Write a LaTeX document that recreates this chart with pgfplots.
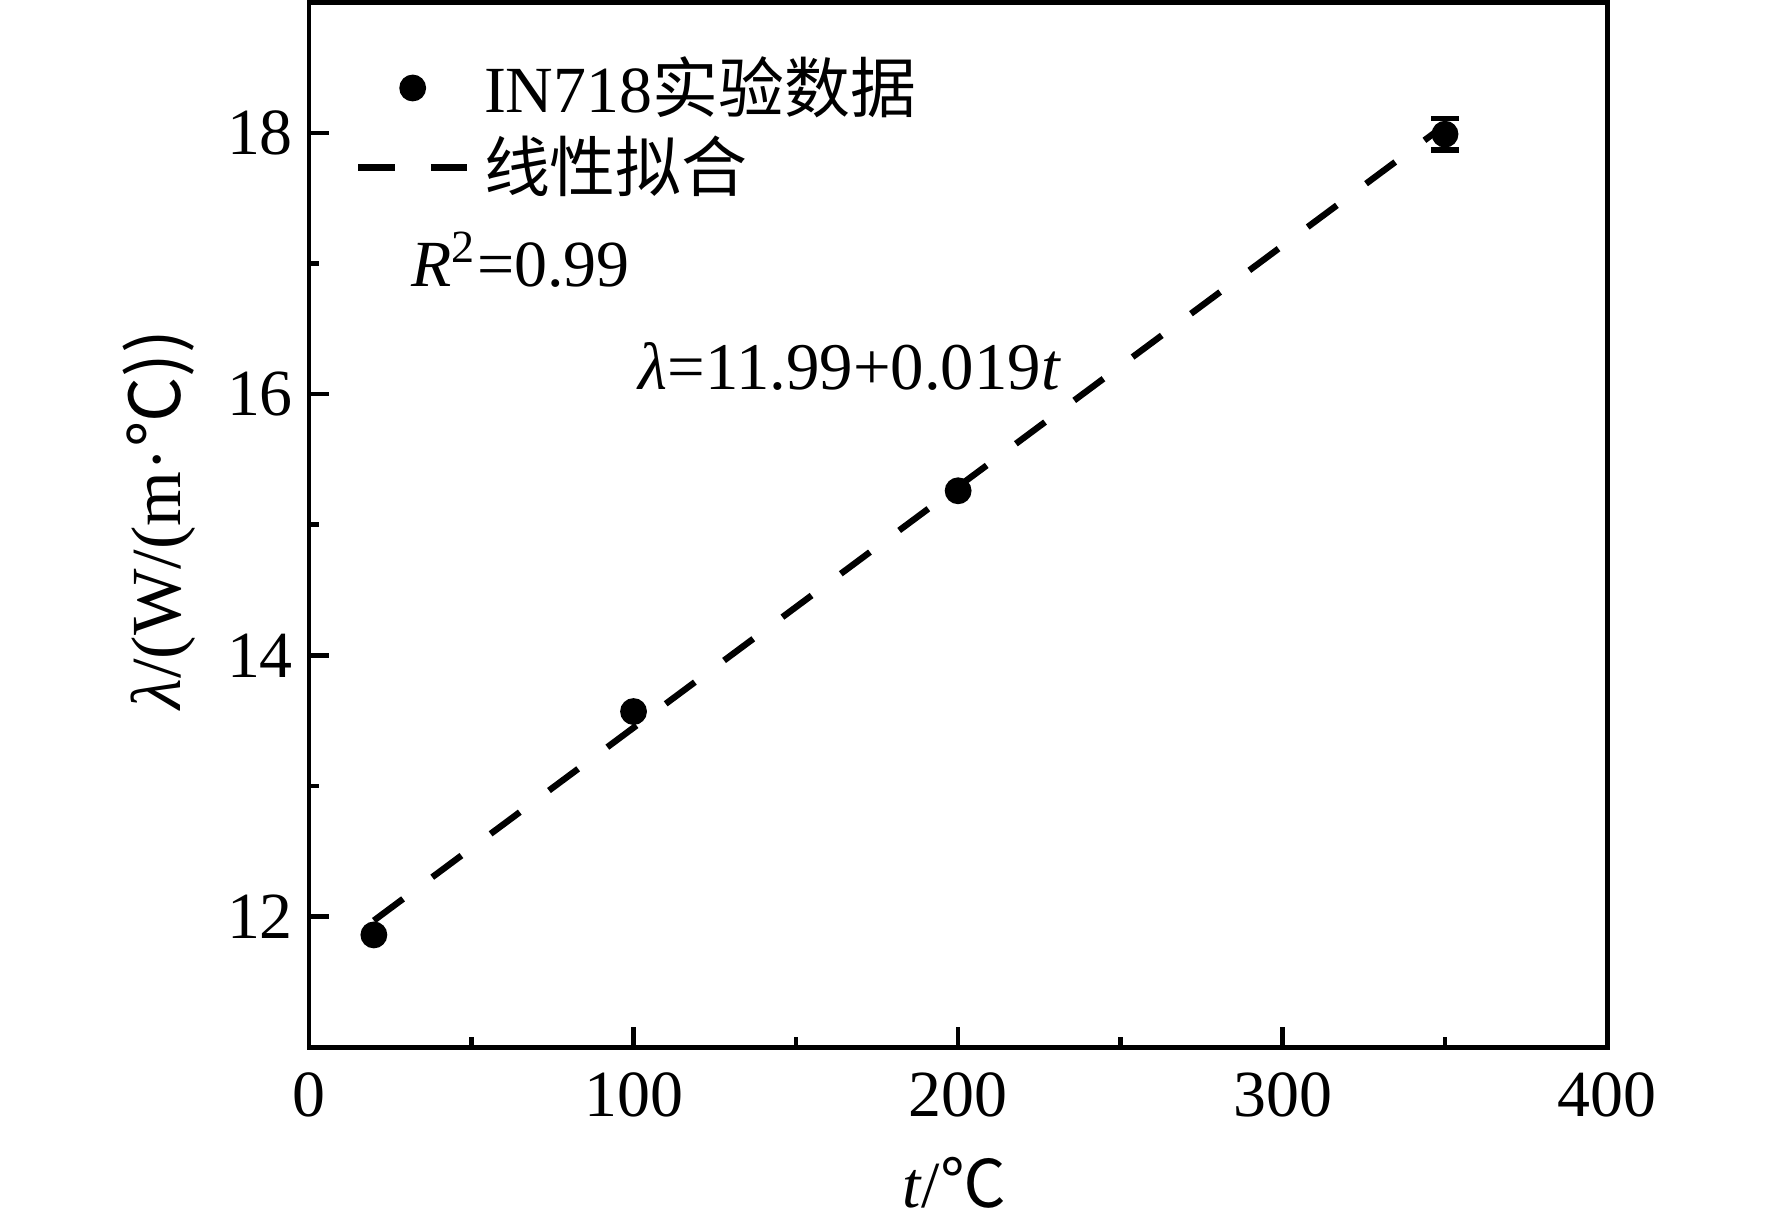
\documentclass[border=0pt]{standalone}
\usepackage{fontspec}
\setmainfont{Liberation Serif}
\newfontfamily\cjk{Noto Sans CJK SC}
\usepackage{pgfplots}
\pgfplotsset{compat=1.18}
\pgfplotsset{
  mylegmark/.style={legend image code/.code={\draw[mark repeat=2,mark phase=2,##1] plot coordinates {(0pt,0pt)(12pt,0pt)(24pt,0pt)};}},
  myleglINE/.style={legend image code/.code={\draw[##1] (0pt,0pt) -- (24pt,0pt);}},
}
\begin{document}
\begin{tikzpicture}
\begin{axis}[
  scale only axis, width=285.75pt, height=230pt,
  xmin=0, xmax=400, ymin=11, ymax=19,
  xtick={0,100,200,300,400}, ytick={12,14,16,18},
  minor xtick={50,150,250,350}, minor ytick={13,15,17},
  tick align=inside, xtick pos=bottom, ytick pos=left,
  major tick length=4.5pt, minor tick length=2.2pt,
  every tick/.style={line width=1pt, black},
  axis line style={line width=1pt},
  /pgf/number format/assume math mode=true,
  tick label style={font=\fontsize{14.5}{16}\selectfont},
  xticklabel style={yshift=-2pt},
  xlabel={\textit{t}/\cjk{℃}},
  ylabel={\textit{λ}/(W/(m·\cjk{℃}))},
  label style={font=\fontsize{14.5}{16}\selectfont},
  ylabel style={font=\fontsize{15.5}{17}\selectfont},
  xlabel style={at={(axis description cs:0.497,-0.13)}, anchor=center},
  ylabel style={at={(axis description cs:-0.115,0.505)}, anchor=center},
  clip=false,
  legend style={draw=none, fill=none, at={(axis cs:13.9,18.625)}, anchor=north west,
    inner sep=0pt, row sep=1.75pt, column sep=2pt, nodes={inner sep=1pt},
    font=\fontsize{14.5}{16}\selectfont},
  legend cell align=left,
]
\addplot[only marks, mark=*, mark size=2.75pt, black, mylegmark]
  coordinates {(20,11.86) (100,13.57) (200,15.26) (350,17.99)};
\addlegendentry{IN718\cjk{实验数据}}
\addplot[black, line width=1.4pt, dash pattern=on 8pt off 8pt, myleglINE]
  coordinates {(20,11.97) (350,18.06)};
\addlegendentry{\cjk{线性拟合}}
\addplot[forget plot, black, only marks, mark=none,
  error bars/.cd, y dir=both, y explicit,
  error bar style={line width=1pt},
  error mark options={rotate=90, mark size=3pt, line width=1.2pt}]
  coordinates {(350,17.99) +- (0,0.12)};
\node[anchor=west, inner sep=0pt, font=\fontsize{14.5}{16}\selectfont] at (axis cs:31.3,17.03) {\textit{R}\textsuperscript{2}=0.99};
\node[anchor=west, inner sep=0pt, font=\fontsize{14.7}{17}\selectfont] at (axis cs:101.3,16.215) {\textit{λ}=11.99+0.019\textit{t}};
\coordinate (SW) at (rel axis cs:0,0);
\coordinate (NE) at (rel axis cs:1,1);
\end{axis}
\pgfresetboundingbox
\useasboundingbox ([xshift=-68pt,yshift=-39.5pt]SW) rectangle ([xshift=36.25pt,yshift=0.5pt]NE);
\end{tikzpicture}
\end{document}
